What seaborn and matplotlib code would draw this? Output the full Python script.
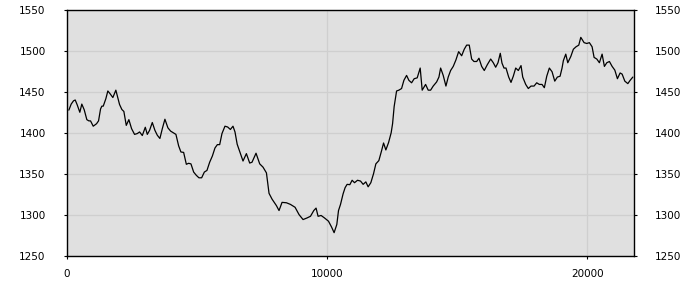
import matplotlib
matplotlib.use("Agg")
import matplotlib.pyplot as plt
import seaborn as sns
import pandas as pd

x_vals = [90, 180, 270, 335, 412, 512, 588, 681, 781, 858, 923, 1027, 1154, 1231, 1308, 1358,
          1412, 1512, 1588, 1665, 1781, 1896, 2038, 2127, 2204, 2296, 2396, 2500, 2615, 2719,
          2808, 2912, 3027, 3104, 3192, 3296, 3396, 3488, 3588, 3681, 3781, 3896, 4000, 4104,
          4204, 4308, 4396, 4500, 4604, 4692, 4781, 4885, 4988, 5088, 5192, 5296, 5396, 5500,
          5604, 5704, 5796, 5885, 5973, 6088, 6192, 6296, 6396, 6473, 6557, 6654, 6781, 6911,
          7038, 7127, 7281, 7423, 7550, 7681, 7781, 7896, 8065, 8165, 8281, 8450, 8604, 8781,
          8935, 9088, 9242, 9373, 9500, 9588, 9665, 9781, 9911, 10065, 10181, 10281, 10385,
          10450, 10527, 10627, 10704, 10781, 10885, 10973, 11065, 11181, 11296, 11396, 11500,
          11588, 11692, 11796, 11885, 12000, 12104, 12181, 12269, 12373, 12473, 12527, 12588,
          12681, 12769, 12873, 12962, 13065, 13154, 13258, 13358, 13473, 13588, 13665, 13796,
          13896, 13988, 14088, 14219, 14308, 14373, 14473, 14577, 14665, 14757, 14858, 14962,
          15065, 15181, 15281, 15373, 15473, 15565, 15654, 15758, 15846, 15950, 16050, 16165,
          16296, 16396, 16488, 16577, 16665, 16731, 16808, 16885, 16988, 17077, 17165, 17258,
          17358, 17462, 17527, 17642, 17742, 17846, 17962, 18065, 18165, 18269, 18358, 18450,
          18550, 18654, 18758, 18858, 18962, 19038, 19088, 19181, 19258, 19373, 19473, 19577,
          19681, 19758, 19885, 19988, 20088, 20192, 20269, 20373, 20473, 20577, 20665, 20758,
          20858, 20962, 21065, 21165, 21269, 21346, 21450, 21565, 21654, 21758]

y_vals = [1427.6, 1435, 1439, 1440, 1434, 1425, 1435, 1428, 1416, 1414.5, 1414.5, 1408, 1411,
          1414.5, 1429, 1432.5, 1432.5, 1441.6, 1451, 1448, 1443, 1452, 1434.5, 1428.4, 1426,
          1409, 1416, 1405, 1398, 1399, 1401, 1396.6, 1406.7, 1398, 1403, 1412.5, 1403, 1397,
          1393, 1405, 1416.5, 1406, 1402, 1400, 1398, 1384, 1376.5, 1376, 1361.5, 1362.7, 1362,
          1352, 1348, 1345, 1345, 1352, 1354, 1364, 1371.6, 1381.4, 1385.5, 1385.5, 1399, 1408,
          1407, 1404, 1408, 1401, 1386, 1377, 1365.5, 1374.5, 1363, 1364, 1375, 1362, 1358,
          1351, 1326, 1319, 1311, 1305, 1315, 1314.5, 1312.5, 1309, 1300, 1294, 1296, 1298,
          1305, 1308, 1298, 1299, 1296, 1292, 1285, 1278, 1288, 1305, 1312.5, 1325.5, 1333,
          1337, 1336.6, 1342, 1339, 1342, 1341, 1337, 1340, 1334, 1339, 1350, 1362, 1366, 1378,
          1387.5, 1379, 1388, 1400, 1411, 1432, 1451, 1452, 1454, 1464, 1470, 1464, 1461, 1466,
          1467, 1479, 1452, 1459, 1452, 1452, 1457, 1462, 1468, 1479, 1470, 1457, 1468, 1476,
          1481, 1489, 1499, 1494, 1502, 1507, 1507, 1490, 1487, 1487, 1491, 1481, 1476, 1483,
          1490, 1485.5, 1480, 1485.5, 1497, 1485, 1479, 1479, 1468, 1461.5, 1469, 1479, 1476,
          1482, 1468, 1459, 1454, 1457, 1457, 1461, 1459, 1459, 1455, 1469, 1479, 1474.5, 1463,
          1468, 1469, 1479, 1488, 1496, 1485.5, 1493, 1502, 1505, 1507, 1516.5, 1510, 1509,
          1510, 1505, 1492, 1490, 1485.5, 1496, 1481, 1485.5, 1487, 1481, 1476.5, 1466, 1473,
          1471.6, 1463, 1460, 1464, 1468]

x_ticks = [0, 10000, 20000]
y_ticks = [1250, 1300, 1350, 1400, 1450, 1500, 1550]

df = pd.DataFrame({"x": x_vals, "y": y_vals})

sns.set_style("ticks")
plt.rcParams["font.family"] = ["DejaVu Sans"]

fig = plt.figure(figsize=(7, 3), dpi=100)
ax = fig.add_axes([0.095, 0.148, 0.811, 0.819])
ax.set_facecolor("#e0e0e0")

sns.lineplot(data=df, x="x", y="y", ax=ax, color="black", linewidth=0.9)

ax.set_xlim(0, 21810)
ax.set_ylim(1250, 1550)
ax.set_xticks(x_ticks)
ax.set_yticks(y_ticks)
ax.set_xlabel("")
ax.set_ylabel("")
ax.grid(True, color="#cfcfcf", linewidth=0.9)
ax.set_axisbelow(True)
for s in ax.spines.values():
    s.set_visible(True)
    s.set_color("black")
    s.set_linewidth(1.0)

ax.tick_params(axis="y", left=True, right=True, labelleft=True, labelright=True,
               length=2.5, width=0.8, pad=12.5, labelsize=7.5, colors="black")
ax.tick_params(axis="x", bottom=True, top=False, length=2.5, width=0.8, pad=7.5,
               labelsize=7.5, colors="black")

fig.savefig("out.png", dpi=100, facecolor="white")
